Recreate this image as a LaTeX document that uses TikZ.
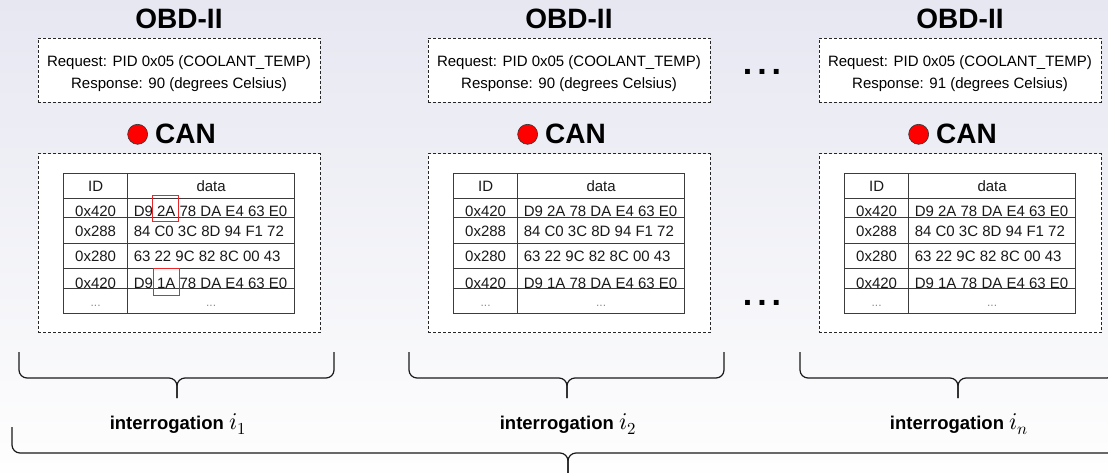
\documentclass[tikz,border=0pt]{standalone}
\usepackage{unicode-math}
\setmainfont{Liberation Sans}
\setmathfont{Latin Modern Math}
\usepackage{xcolor}
\usetikzlibrary{positioning}

\definecolor{bgtop}{RGB}{230,231,241}
\definecolor{bgbot}{RGB}{254,254,254}
\definecolor{linegray}{RGB}{60,60,60}
\definecolor{hlred}{RGB}{232,40,40}

\begin{document}
\begin{tikzpicture}[
        x=1pt, y=-1pt,
        font=\fontsize{15}{22}\selectfont,
        title/.style={font=\fontsize{28}{32}\selectfont\bfseries, inner sep=0pt},
        dbox/.style={draw=black!85, fill=white, line width=0.8pt,
            dash pattern=on 3pt off 2pt, align=center, minimum width=282pt},
        led/.style={circle, draw=black!80, fill=red, line width=0.6pt,
            minimum size=20pt, inner sep=0pt},
        grid/.style={draw=linegray, line width=0.9pt},
        cell/.style={inner sep=0pt, text=black!90},
        more/.style={inner sep=0pt, text=black!45, font=\fontsize{12}{12}\selectfont},
        hl/.style={draw=hlred, line width=1pt},
        gap/.style={inner sep=0pt, font=\fontsize{34}{34}\selectfont\bfseries},
        brc/.style={draw=black!90, line width=1.2pt, rounded corners=8pt},
        lab/.style={font=\fontsize{18.5}{22}\selectfont\bfseries, inner sep=0pt, anchor=base},
    ]
    % background
    \shade[top color=bgtop, bottom color=bgbot] (0,0) rectangle (1108,473);
    \useasboundingbox (0,0) rectangle (1108,473);

    \foreach \L/\k/\resp/\sub in {38/1/90/1, 428/2/90/2, 819/3/91/n} {
        % OBD-II request / response
        \node[dbox, minimum height=64pt] (req\k) at (\L+141,70)
            {\rule{0pt}{19pt}Request: PID 0x05 (COOLANT\_TEMP)\\Response: \resp{} (degrees Celsius)};
        \node[title, above=9pt of req\k] (obd\k) {OBD-II};

        % CAN trace
        \node[dbox, minimum height=179pt, below=51pt of req\k] (trace\k) {};
        \node[title, above=9pt of trace\k, xshift=6.5pt] (can\k) {CAN};
        \node[led, left=7pt of can\k] (led\k) {};

        % frame table
        \coordinate (t\k) at ([shift={(26,20)}]trace\k.north west);
        \draw[grid] (t\k) rectangle ++(231,140);
        \draw[grid] ([shift={(64,0)}]t\k) -- ++(0,140);
        \foreach \dy in {25,44,70,95,115}
            \draw[grid] ([shift={(0,\dy)}]t\k) -- ++(231,0);
        \node[cell, anchor=base] (hid\k) at ([shift={(32,18)}]t\k) {ID};
        \node[cell, anchor=base] (hdat\k) at ([shift={(147.5,18)}]t\k) {data};
        \foreach \id/\bytes/\by [count=\r] in {0x420/D9 2A 78 DA E4 63 E0/43.5,
                0x288/84 C0 3C 8D 94 F1 72/63, 0x280/63 22 9C 82 8C 00 43/88.5,
                0x420/D9 1A 78 DA E4 63 E0/115} {
            \node[cell, anchor=base] (id\k\r) at ([shift={(32,\by)}]t\k) {\id};
            \node[cell, anchor=base west] (dat\k\r) at ([shift={(70,\by)}]t\k) {\bytes};
        }
        \node[more, anchor=base] (idm\k) at ([shift={(32,133)}]t\k) {...};
        \node[more, anchor=base] (datm\k) at ([shift={(147.5,133)}]t\k) {...};

        % brace over one interrogation
        \draw[brc] (\L-19,352) -- (\L-19,378) -- (\L+139,378) -- (\L+139,398);
        \draw[brc] (\L+296,352) -- (\L+296,378) -- (\L+139,378) -- (\L+139,398);
        \node[lab] (int\k) at (\L+140,429)
            {interrogation {\fontsize{24}{24}\selectfont$i_\sub$}};
    }

    % changed bytes
    \draw[hl] ([shift={(89,22)}]t1) rectangle ++(26,26);
    \draw[hl] ([shift={(90,95)}]t1) rectangle ++(26,27);

    % skipped interrogations
    \node[gap, anchor=base] (skipobd) at (762,74.5) {.\hspace{5pt}.\hspace{5pt}.};
    \node[gap, anchor=base] (skipcan) at (762,305.5) {.\hspace{5pt}.\hspace{5pt}.};

    % brace over the whole session
    \draw[brc] (12,427) -- (12,453) -- (568,453) -- (568,480);
    \draw[brc] (1124,427) -- (1124,453) -- (568,453) -- (568,480);
\end{tikzpicture}
\end{document}
